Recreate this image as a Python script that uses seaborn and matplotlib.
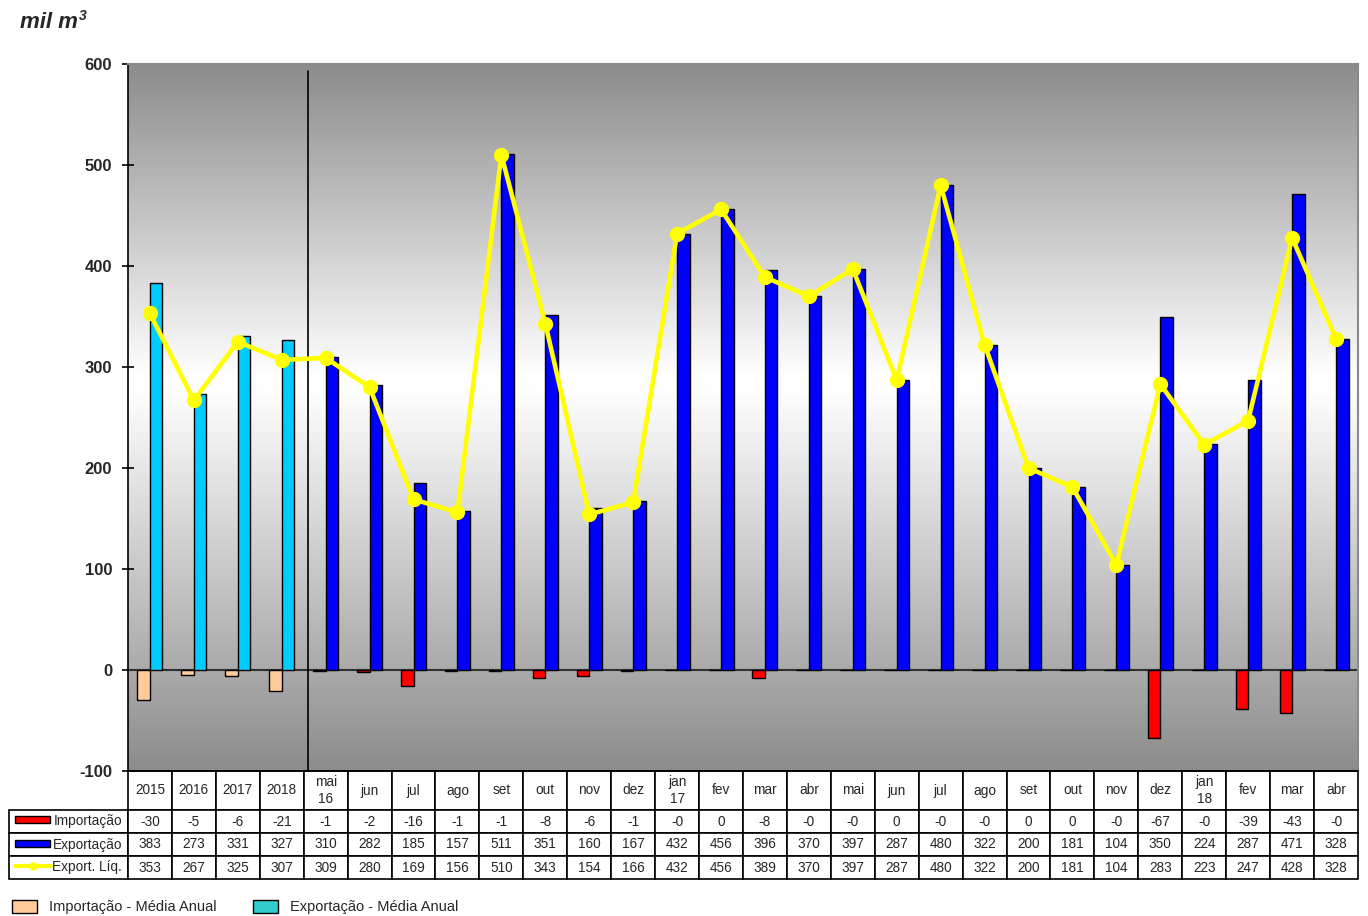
import numpy as np
import pandas as pd
import matplotlib
matplotlib.use("Agg")
import matplotlib.pyplot as plt
from matplotlib.patches import Rectangle, Patch
from matplotlib.lines import Line2D
from matplotlib.table import Table
import seaborn as sns

# Period labels (as shown in the table header) and unique keys for the axis
periodos = ["2015", "2016", "2017", "2018", "mai\n16", "jun", "jul", "ago", "set", "out",
            "nov", "dez", "jan\n17", "fev", "mar", "abr", "mai", "jun", "jul", "ago",
            "set", "out", "nov", "dez", "jan\n18", "fev", "mar", "abr"]
chaves = ["2015", "2016", "2017", "2018",
          "mai/16", "jun/16", "jul/16", "ago/16", "set/16", "out/16", "nov/16", "dez/16",
          "jan/17", "fev/17", "mar/17", "abr/17", "mai/17", "jun/17", "jul/17", "ago/17",
          "set/17", "out/17", "nov/17", "dez/17",
          "jan/18", "fev/18", "mar/18", "abr/18"]

# mil m3 (first four entries are annual averages)
importacao = [-30, -5, -6, -21, -1, -2, -16, -1, -1, -8, -6, -1, -0.3, 0, -8, -0.3,
              -0.3, 0, -0.3, -0.3, 0, 0, -0.3, -67, -0.3, -39, -43, -0.3]
exportacao = [383, 273, 331, 327, 310, 282, 185, 157, 511, 351, 160, 167, 432, 456, 396, 370,
              397, 287, 480, 322, 200, 181, 104, 350, 224, 287, 471, 328]
export_liq = [353, 267, 325, 307, 309, 280, 169, 156, 510, 343, 154, 166, 432, 456, 389, 370,
              397, 287, 480, 322, 200, 181, 104, 283, 223, 247, 428, 328]
n_anuais = 4

row_labels = ["Importação", "Exportação", "Export. Líq."]

COR_IMP = "#FF0000"
COR_EXP = "#0000FF"
COR_IMP_ANUAL = "#FFCC99"
COR_EXP_ANUAL = "#00CCFF"
COR_EXP_ANUAL_LEG = "#33CCCC"
COR_LIQ = "#FFFF00"

sns.set_style("white")
plt.rcParams["font.family"] = ["Liberation Sans", "DejaVu Sans"]
plt.rcParams["axes.unicode_minus"] = False

W, H = 1368, 916
fig = plt.figure(figsize=(W / 100, H / 100), dpi=100)
ax = fig.add_axes([128 / W, 1 - 771 / H, (1358 - 128) / W, (771 - 64) / H])

# Bars: import (left) and export (right) per period
df = pd.DataFrame({
    "periodo": chaves * 2,
    "valor": importacao + exportacao,
    "serie": ["Importação"] * len(chaves) + ["Exportação"] * len(chaves),
})
sns.barplot(data=df, x="periodo", y="valor", hue="serie", order=chaves,
            hue_order=["Importação", "Exportação"],
            palette={"Importação": COR_IMP, "Exportação": COR_EXP},
            width=0.57, saturation=1, errorbar=None, edgecolor="black", linewidth=1.0,
            legend=False, ax=ax, zorder=3)
for k, bar in enumerate(ax.containers[0]):
    if k < n_anuais:
        bar.set_facecolor(COR_IMP_ANUAL)
for k, bar in enumerate(ax.containers[1]):
    if k < n_anuais:
        bar.set_facecolor(COR_EXP_ANUAL)

# Net export line
n_lines_before = len(ax.lines)
sns.pointplot(x=chaves, y=export_liq, order=chaves, color=COR_LIQ, markers="o",
              errorbar=None, markersize=8.5, linewidth=3.3, ax=ax)
for ln in ax.lines[n_lines_before:]:
    ln.set_zorder(6)

# Gradient background
grad = np.concatenate([np.linspace(0.55, 1.0, 45), np.linspace(1.0, 0.55, 55)])
ax.imshow(grad[:, None], cmap="gray", vmin=0, vmax=1, extent=[0, 1, 0, 1],
          transform=ax.transAxes, aspect="auto", zorder=0, interpolation="bilinear")

ax.axhline(0, color="#303030", lw=1.5, zorder=2.5)
# separator between annual averages and monthly values
ax.plot([3.6, 3.6], [-100, 593], color="black", lw=1.2, zorder=4)

ax.set_xlim(-0.5, len(chaves) - 0.5)
ax.set_ylim(-100, 600)
ax.set_yticks(np.arange(-100, 601, 100))
ax.set_xticks([])
ax.set_xlabel("")
ax.set_ylabel("")
ax.tick_params(axis="y", direction="inout", length=9, width=1.2, pad=7,
               labelsize=12, left=True, color="black")
for lbl in ax.get_yticklabels():
    lbl.set_fontweight("bold")
for s in ["left", "bottom"]:
    ax.spines[s].set_color("black")
    ax.spines[s].set_linewidth(1.2)
for s in ["top", "right"]:
    ax.spines[s].set_color("#8a8a8a")
    ax.spines[s].set_linewidth(1.5)

# Data table below the axes (sizes in axes fractions)
axw, axh = 1358 - 128, 771 - 64
lab_w, col_w = 119 / axw, 1 / len(chaves)
head_h, row_h = 39 / axh, 23 / axh
tab_h = head_h + 3 * row_h
tab = Table(ax, bbox=[0, -tab_h, 1, tab_h])
for j, lab in enumerate(periodos):
    tab.add_cell(0, j, width=col_w, height=head_h, text=lab, loc="center")
for i, vals in enumerate([importacao, exportacao, export_liq], start=1):
    tab.add_cell(i, -1, width=lab_w, height=row_h, text=row_labels[i - 1], loc="right")
    for j, v in enumerate(vals):
        tab.add_cell(i, j, width=col_w, height=row_h, text=f"{v:.0f}", loc="center")
tab.auto_set_font_size(False)
tab.set_fontsize(9.8)
for (r, c), cell in tab.get_celld().items():
    cell.set_linewidth(1.2)
    cell.set_edgecolor("black")
    cell.PAD = 0.05
ax.add_table(tab)

# Legend keys inside the row-label cells
def fx(x):
    return x / W

def fy(y):
    return 1 - y / H

fig.add_artist(Rectangle((fx(15), fy(823)), fx(35), 7 / H, facecolor=COR_IMP,
                         edgecolor="black", lw=1, transform=fig.transFigure))
fig.add_artist(Rectangle((fx(15), fy(847)), fx(35), 7 / H, facecolor=COR_EXP,
                         edgecolor="black", lw=1, transform=fig.transFigure))
fig.add_artist(Line2D([fx(15), fx(51)], [fy(866), fy(866)], color=COR_LIQ, lw=3,
                      transform=fig.transFigure))
fig.add_artist(Line2D([fx(33)], [fy(866)], color=COR_LIQ, marker="o", markersize=5,
                      transform=fig.transFigure))

# Legend for the annual averages
handles = [Patch(facecolor=COR_IMP_ANUAL, edgecolor="black", lw=1),
           Patch(facecolor=COR_EXP_ANUAL_LEG, edgecolor="black", lw=1)]
fig.legend(handles, ["Importação - Média Anual", "Exportação - Média Anual"],
           loc="center left", bbox_to_anchor=(fx(2), fy(907)), ncol=2, frameon=False,
           fontsize=10.5, handlelength=1.7, handleheight=1.0, handletextpad=0.8,
           columnspacing=2.55, borderaxespad=0.3)

# Unit label with superscript
t = fig.text(fx(20), fy(22), "mil m", fontsize=16, fontweight="bold", fontstyle="italic",
             va="center", ha="left")
fig.canvas.draw()
bb = t.get_window_extent()
fig.text(bb.x1 / W + 1 / W, fy(16), "3", fontsize=10, fontweight="bold",
         fontstyle="italic", va="center", ha="left")

fig.savefig("out.png", dpi=100)
